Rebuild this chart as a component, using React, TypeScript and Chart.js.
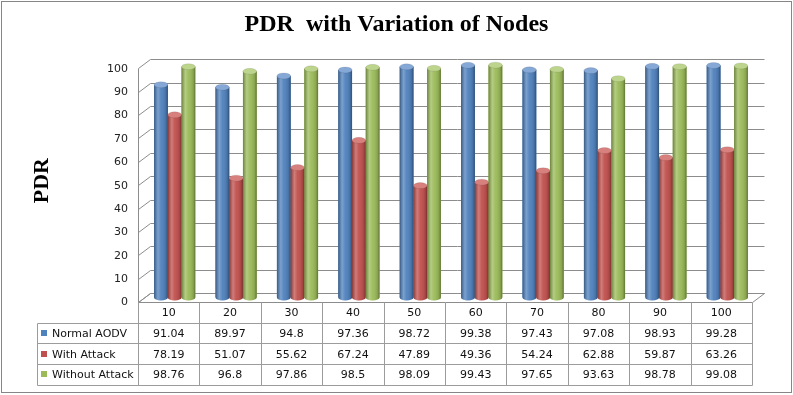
import React, { useEffect, useRef } from 'react';
import { Chart, registerables } from 'chart.js';

Chart.register(...registerables);

const categories = ['10', '20', '30', '40', '50', '60', '70', '80', '90', '100'];
const seriesNames = ['Normal AODV', 'With Attack', 'Without Attack'];
const normalAODV = [91.04, 89.97, 94.8, 97.36, 98.72, 99.38, 97.43, 97.08, 98.93, 99.28];
const withAttack = [78.19, 51.07, 55.62, 67.24, 47.89, 49.36, 54.24, 62.88, 59.87, 63.26];
const withoutAttack = [98.76, 96.8, 97.86, 98.5, 98.09, 99.43, 97.65, 93.63, 98.78, 99.08];
const yTicks = [0, 10, 20, 30, 40, 50, 60, 70, 80, 90, 100];

const seriesValues = [normalAODV, withAttack, withoutAttack];
const colors = ['#4F81BD', '#C0504D', '#9BBB59'];
const capColors = ['#86a8d6', '#d8807d', '#bcd48c'];
const DX = 6;
const DY = 4.5;
const RY = 3;
const GRID = '#8c8c8c';
const TABLE_LINE = '#9c9c9c';
const FONT = '"DejaVu Sans", Verdana, sans-serif';

const wallPlugin = {
  id: 'wall3d',
  beforeDatasetsDraw(chart: any) {
    const { ctx, chartArea } = chart;
    const ys = chart.scales.y;
    const fl = Math.round(chartArea.left - DX) + 0.5;
    const bl = Math.round(chartArea.left + DX) + 0.5;
    const br = Math.round(chartArea.right + DX) + 0.5;
    const fr = Math.round(chartArea.right - DX) + 0.5;
    ctx.save();
    ctx.strokeStyle = GRID;
    ctx.lineWidth = 1;
    for (const t of yTicks) {
      const p = ys.getPixelForValue(t);
      const yf = Math.round(p + DY) + 0.5;
      const yb = Math.round(p - DY) + 0.5;
      ctx.beginPath();
      ctx.moveTo(fl, yf);
      ctx.lineTo(bl, yb);
      ctx.lineTo(br, yb);
      ctx.stroke();
    }
    const topF = Math.round(ys.getPixelForValue(yTicks[yTicks.length - 1]) + DY) + 0.5;
    const botF = Math.round(ys.getPixelForValue(0) + DY) + 0.5;
    const botB = Math.round(ys.getPixelForValue(0) - DY) + 0.5;
    ctx.beginPath();
    ctx.moveTo(fl, topF);
    ctx.lineTo(fl, botF);
    ctx.stroke();
    ctx.beginPath();
    ctx.moveTo(fl, botF);
    ctx.lineTo(bl, botB);
    ctx.lineTo(br, botB);
    ctx.lineTo(fr, botF);
    ctx.closePath();
    ctx.stroke();
    ctx.restore();
  },
};

const cylinderPlugin = {
  id: 'cylinder',
  afterDatasetsDraw(chart: any) {
    const ctx = chart.ctx;
    ctx.save();
    chart.data.datasets.forEach((_ds: any, di: number) => {
      const meta = chart.getDatasetMeta(di);
      meta.data.forEach((el: any) => {
        const { x, y, base, width } = el.getProps(['x', 'y', 'base', 'width'], true);
        const w2 = width / 2;
        const l = x - w2;
        const r = x + w2;
        const g = ctx.createLinearGradient(l, 0, r, 0);
        g.addColorStop(0, 'rgba(0,0,0,0.30)');
        g.addColorStop(0.28, 'rgba(255,255,255,0.25)');
        g.addColorStop(0.5, 'rgba(255,255,255,0.05)');
        g.addColorStop(0.85, 'rgba(0,0,0,0.12)');
        g.addColorStop(1, 'rgba(0,0,0,0.38)');
        ctx.beginPath();
        ctx.moveTo(l, y);
        ctx.lineTo(l, base);
        ctx.ellipse(x, base, w2, RY, 0, Math.PI, 0, true);
        ctx.lineTo(r, y);
        ctx.closePath();
        ctx.fillStyle = colors[di];
        ctx.fill();
        ctx.fillStyle = g;
        ctx.fill();
        ctx.beginPath();
        ctx.ellipse(x, y, w2, RY, 0, 0, Math.PI * 2);
        ctx.fillStyle = capColors[di];
        ctx.fill();
        ctx.strokeStyle = 'rgba(0,0,0,0.15)';
        ctx.lineWidth = 0.6;
        ctx.stroke();
      });
    });
    ctx.restore();
  },
};

const tablePlugin = {
  id: 'dataTable',
  afterDraw(chart: any) {
    const { ctx, chartArea } = chart;
    const xs = chart.scales.x;
    const ys = chart.scales.y;
    const n = categories.length;
    const half = (chartArea.right - chartArea.left) / n / 2;
    const bounds: number[] = [];
    for (let i = 0; i < n; i++) bounds.push(xs.getPixelForValue(i) - half - DX);
    bounds.push(xs.getPixelForValue(n - 1) + half - DX);
    const top = ys.getPixelForValue(0) + DY;
    const rowH = 20.7;
    const rowYs = [top, top + rowH, top + rowH * 2, top + rowH * 3, top + rowH * 4];
    const legendLeft = 37;
    const px = (v: number) => Math.round(v) + 0.5;

    ctx.save();
    ctx.strokeStyle = TABLE_LINE;
    ctx.lineWidth = 1;
    for (let r = 1; r < rowYs.length; r++) {
      ctx.beginPath();
      ctx.moveTo(px(legendLeft), px(rowYs[r]));
      ctx.lineTo(px(bounds[n]), px(rowYs[r]));
      ctx.stroke();
    }
    for (let i = 0; i <= n; i++) {
      ctx.beginPath();
      ctx.moveTo(px(bounds[i]), px(rowYs[0]));
      ctx.lineTo(px(bounds[i]), px(rowYs[4]));
      ctx.stroke();
    }
    ctx.beginPath();
    ctx.moveTo(px(legendLeft), px(rowYs[1]));
    ctx.lineTo(px(legendLeft), px(rowYs[4]));
    ctx.stroke();

    ctx.font = `11px ${FONT}`;
    ctx.fillStyle = '#111';
    ctx.textBaseline = 'middle';
    ctx.textAlign = 'center';
    for (let i = 0; i < n; i++) {
      const cx = (bounds[i] + bounds[i + 1]) / 2;
      ctx.fillText(categories[i], cx, (rowYs[0] + rowYs[1]) / 2 + 1);
      for (let s = 0; s < seriesValues.length; s++) {
        ctx.fillText(String(seriesValues[s][i]), cx, (rowYs[s + 1] + rowYs[s + 2]) / 2 + 1);
      }
    }
    ctx.textAlign = 'left';
    for (let s = 0; s < seriesNames.length; s++) {
      const cy = (rowYs[s + 1] + rowYs[s + 2]) / 2;
      ctx.fillStyle = colors[s];
      ctx.fillRect(41, Math.round(cy - 3), 6, 6);
      ctx.fillStyle = '#111';
      ctx.fillText(seriesNames[s], 52, cy + 1);
    }
    ctx.strokeStyle = '#868686';
    ctx.strokeRect(1.5, 1.5, 790, 391);
    ctx.restore();
  },
};

export default function App() {
  const canvasRef = useRef<HTMLCanvasElement | null>(null);

  useEffect(() => {
    const canvas = canvasRef.current;
    if (!canvas) return;
    const chart = new Chart(canvas, {
      type: 'bar',
      data: {
        labels: categories,
        datasets: seriesNames.map((name, i) => ({
          label: name,
          data: seriesValues[i],
          backgroundColor: colors[i],
          borderWidth: 0,
          categoryPercentage: 0.67,
          barPercentage: 1.0,
        })),
      },
      options: {
        responsive: false,
        animation: false,
        devicePixelRatio: 1,
        events: [],
        layout: { padding: { left: 0, right: 0, top: 0, bottom: 97.5 } },
        plugins: {
          legend: { display: false },
          tooltip: { enabled: false },
          title: {
            display: true,
            text: 'PDR  with Variation of Nodes',
            color: '#000',
            font: { family: '"Liberation Serif", "Times New Roman", serif', size: 24, weight: 'bold' },
            padding: { top: 10, bottom: 25 },
          },
        },
        scales: {
          x: {
            display: false,
            grid: { display: false },
          },
          y: {
            min: 0,
            max: 100,
            afterFit: (scale: any) => {
              scale.width = 144;
            },
            grid: { display: false, drawTicks: false },
            border: { display: false },
            ticks: {
              stepSize: 10,
              padding: 16,
              labelOffset: 5,
              color: '#222',
              font: { family: FONT, size: 11 },
            },
            title: {
              display: true,
              text: 'PDR',
              color: '#000',
              font: { family: '"Liberation Serif", "Times New Roman", serif', size: 22, weight: 'bold' },
              padding: { top: 29, bottom: 0 },
            },
          },
          yRight: {
            position: 'right',
            display: true,
            min: 0,
            max: 100,
            afterFit: (scale: any) => {
              scale.width = 35;
            },
            grid: { display: false, drawTicks: false },
            border: { display: false },
            ticks: { display: false },
          },
        },
      },
      plugins: [wallPlugin, cylinderPlugin, tablePlugin],
    } as any);
    return () => chart.destroy();
  }, []);

  return (
    <div style={{ position: 'absolute', left: 0, top: 0, width: 793, height: 395, background: '#fff' }}>
      <canvas ref={canvasRef} width={793} height={395} style={{ display: 'block', width: 793, height: 395 }} />
    </div>
  );
}
